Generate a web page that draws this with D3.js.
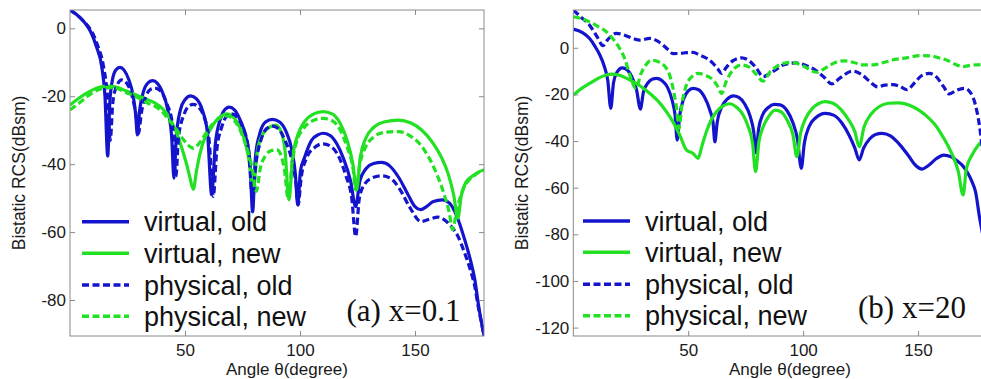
<!DOCTYPE html>
<html>
<head>
<meta charset="utf-8">
<script src="https://cdn.jsdelivr.net/npm/d3@7"></script>
<style>
  body { margin: 0; background: #fff; }
  svg { display: block; }
  .tick text { font-family: "Liberation Sans", Arial, sans-serif; font-size: 17px; fill: #1a1a1a; }
  .axis line { stroke: #8a8a8a; }
  .axis path { stroke: none; }
</style>
</head>
<body>
<script>
// angle (deg) vs bistatic RCS (dBsm)
const legendLabels = ['virtual, old', 'virtual, new', 'physical, old', 'physical, new'];
const xTicks = [50, 100, 150];
const yTicksA = [0, -20, -40, -60, -80];
const yTicksB = [0, -20, -40, -60, -80, -100, -120];

// (a) x=0.1
const aVirtualOld = [[0,5.4],[3,4],[6,2],[9,-1],[11.5,-5.4],[13.8,-11.3],[15.2,-20],[16.4,-37.6],[17.3,-22],[18.5,-15],[20,-12.2],[21.7,-11.5],[23.5,-12.3],[25.5,-15],[27.5,-20],[28.5,-25],[29.3,-31.4],[30.3,-24],[32,-18.5],[34,-16],[36,-15.4],[38,-16.2],[40,-18.5],[42.5,-24],[44.2,-32],[45.2,-44.1],[46.2,-32],[48,-24],[50,-21],[52.5,-19.9],[55,-20.8],[57.5,-24],[59.8,-31],[61.6,-49],[63.2,-34],[65.5,-26.5],[67.5,-23.8],[69.3,-23.2],[71.5,-24],[74,-27],[76.5,-32],[78.3,-40],[79.4,-54],[80.6,-38],[82.5,-31],[85,-27.6],[88,-26.8],[91,-27.5],[94,-30.5],[96.5,-36],[98,-43],[99,-52],[100.2,-42],[102,-38],[105,-33],[108,-31.3],[110,-30.9],[113,-31.5],[116,-34],[119,-38.5],[122,-45],[124.2,-52.5],[126,-45],[128.5,-41.5],[132,-39.8],[135.5,-39.5],[139,-40.5],[143,-44],[147,-49],[150,-52.5],[152.5,-53.4],[155,-52.5],[158,-51],[162,-50.5],[165,-51.5],[168,-55],[171.5,-62],[174,-68],[176,-74],[177.5,-81],[179,-87],[180,-90.5]];
const aVirtualNew = [[0,-22.6],[4,-20.5],[8,-18.8],[12,-17.5],[16,-17],[20,-17.3],[24,-18.3],[28.8,-19.6],[33,-20.8],[37,-22],[40,-23.5],[42.5,-25.5],[44.5,-28],[46.4,-30.9],[48.5,-35],[50.5,-39.5],[52,-43.5],[53.6,-47.4],[55,-42],[56.5,-37],[58.5,-32.5],[60.9,-29.9],[63.5,-27.2],[66,-25.7],[68.1,-25.2],[70.5,-25.8],[73,-28],[75.5,-32],[77.5,-37.5],[79.7,-46.5],[81.5,-36],[84,-31],[87,-29],[89.5,-28.5],[91.5,-30],[93.5,-36],[95.2,-50.5],[96.8,-38],[99,-31.5],[102,-27.5],[106,-25.2],[110,-24.5],[114,-25.2],[117.5,-28],[120.5,-33],[123,-40],[124.6,-47.6],[126.2,-38],[128.5,-32.5],[132,-29.2],[137,-27.5],[142.7,-27],[148,-27.8],[153,-30],[157.5,-33.5],[161.5,-38],[164.5,-43],[166.8,-49],[168.6,-55.9],[170.2,-49],[172,-45.5],[175,-43.5],[178,-42.2],[180,-41.7]];
const aPhysicalOld = [[0,5.4],[3,4],[6,2],[9.5,-1],[12,-5],[14.5,-11],[16.3,-20],[17.5,-33],[18.6,-22],[20,-17.5],[22.5,-15.2],[25,-16.5],[27,-20],[28.8,-26],[29.8,-31],[31,-25],[33,-20],[35,-18],[37,-17.6],[39.5,-18.5],[42,-22],[44.5,-28],[46,-43.6],[47.2,-32],[49.5,-25.5],[51.5,-23],[53.6,-22.4],[56,-23.3],[58.5,-26.5],[60.5,-33],[62.3,-49.5],[63.8,-36],[66,-29],[68,-26],[70.3,-25.2],[72.5,-26],[75,-29],[77.5,-35],[79.4,-50],[80.8,-40],[83,-33],[85.5,-29.5],[88,-28.8],[90.5,-29.5],[93.5,-33],[96.5,-39],[98.3,-46],[99.2,-52],[100.5,-44],[103,-38],[106.5,-35],[110,-34],[113.5,-34.8],[117,-38],[120,-43.5],[122.5,-50],[124.2,-61.3],[125.8,-50],[128,-46],[131.5,-44],[135.5,-43.4],[139.5,-44.2],[143.5,-47.5],[148,-53],[152.6,-56.9],[156,-56.3],[160,-55.6],[163,-56.5],[165.7,-58.3],[168.5,-61],[171.5,-66],[174,-71],[176,-76],[177.5,-82],[179,-87],[180,-90.5]];
const aPhysicalNew = [[0,-24],[4,-22],[8,-19.8],[12,-18.2],[16,-17.4],[20,-17.6],[24,-18.8],[28.8,-20.2],[33,-21.8],[37,-23],[40,-24.5],[43,-27],[46,-29.5],[49,-32.5],[51.5,-34.5],[53.6,-35.3],[56,-34],[58.5,-31.5],[61,-29],[64,-27],[68.1,-25.8],[71,-26.8],[74,-30],[77,-35.5],[79.3,-41.5],[81,-48],[82.8,-41],[85,-37.5],[87.5,-36],[90,-35.8],[91.5,-37],[93.3,-42],[94.9,-50.5],[96.5,-40],[98.5,-33.5],[101.5,-29.5],[105.5,-27.2],[110,-26.5],[114,-27.2],[117.5,-30],[120.5,-35],[123,-41],[124.3,-47.6],[126,-40],[128.5,-35],[132,-32],[137,-30.6],[142.7,-30.4],[147.5,-31.5],[152,-34],[156,-38],[159.5,-43],[162.5,-48.5],[164.8,-54],[166.4,-59.3],[168,-54],[170,-49],[172.5,-45.5],[175.5,-43.5],[178,-42.2],[180,-41.7]];

// (b) x=20
const bVirtualOld = [[0,8],[4,6.5],[7.1,4],[9.5,0.5],[11.5,-3],[13.5,-8],[15,-14],[16.3,-26],[17.5,-15],[19,-10.5],[21.3,-8.6],[23.5,-9.5],[25.5,-12.5],[27.5,-18],[29.2,-26.3],[30.5,-19],[32.5,-15],[34.5,-13.4],[36.2,-13.1],[38.5,-14],[41,-17],[43,-22.5],[44.3,-29],[45.2,-39.6],[46.3,-29],[48,-22],[50,-18.5],[52.1,-17.4],[54.5,-18],[57,-21],[59.5,-27],[60.8,-32],[61.6,-40.3],[62.6,-32],[64.5,-25.5],[67,-22],[69.6,-20.6],[72,-21.3],[74.5,-24],[77,-29.5],[78.5,-36],[79.5,-45],[80.6,-35],[82.5,-28.5],[85,-25.5],[87.5,-24.3],[90,-24.5],[93,-27],[95.5,-32],[97.5,-39],[99.2,-51.7],[100.5,-41],[102.5,-34],[105.5,-30],[109.6,-28.1],[113.5,-29],[117,-32.5],[120,-37.5],[122.5,-43],[124.4,-48.1],[126.3,-43],[129,-39],[131.5,-37.2],[134.3,-36.7],[138,-37.8],[142,-41.5],[146,-46.5],[149,-50.5],[151.7,-52],[154.5,-50.5],[158,-47.5],[161.1,-46],[164.5,-46.8],[167,-48.5],[169.2,-50.3],[171.5,-53.5],[173.5,-57.5],[175,-61.7],[176.8,-73],[178.5,-82],[180,-90]];
const bVirtualNew = [[0,-20.3],[3.5,-17.5],[7.1,-15.3],[11,-13],[14,-11.8],[16.6,-11.3],[20,-11.8],[24.6,-13.8],[29,-16.3],[33.3,-19.6],[37,-23],[40.5,-27.4],[43.5,-32],[46.3,-37.4],[49.2,-43.8],[52.1,-45.3],[54.3,-47.4],[56,-42],[57.9,-36],[60,-31],[62.3,-27.4],[65,-25],[68.1,-24],[71,-25.5],[73.9,-28.8],[76,-33.5],[78,-41],[79.3,-53.1],[80.8,-40],[82.6,-34],[85,-29.5],[87.8,-26.7],[90.5,-27.5],[93,-31],[95.5,-37],[97.3,-46.7],[98.8,-37],[101,-30.5],[104,-26],[107,-23.8],[109.6,-23.1],[113,-23.8],[116.5,-26.5],[119.5,-30.5],[122.5,-36],[124.4,-42.4],[126.5,-34],[129.5,-28.5],[133,-25.3],[137,-23.8],[141.5,-23.6],[146,-24.5],[150,-26.5],[154,-29.5],[157.5,-33.1],[161,-38.5],[164.5,-45],[167.5,-53],[169.6,-63.1],[171,-52],[173.5,-46],[176,-42],[178.5,-39.5],[180,-38]];
const bPhysicalOld = [[0,16.2],[3.5,13],[7.1,9.7],[10.5,4.5],[12.9,0.9],[15,3.5],[18.7,6.2],[22,5.5],[26,4],[29,3.3],[33.3,4],[36.5,3],[39,1.2],[41.5,-1],[43.4,-2.5],[46.5,-2.4],[49.2,-2.1],[52,-2],[55,-3.1],[58,-4.5],[60.8,-6.7],[62.8,-9],[64.5,-11],[66.5,-8.5],[69.5,-5.5],[73.2,-4.3],[76.5,-5.5],[79.5,-8.5],[82.6,-12.4],[85.5,-11],[88,-9.5],[91.3,-7.4],[96.6,-6.5],[101,-7.5],[105.3,-9.6],[109,-12.5],[112.5,-15.5],[116,-13],[121.5,-10],[125.5,-11.5],[129,-14.5],[132.5,-16.8],[135.5,-16],[139,-15.8],[142,-16.5],[145.2,-18],[148.5,-15],[151.5,-12],[154.8,-11],[158,-12.5],[161,-16.5],[163.6,-19.8],[166.5,-18.3],[170.3,-17.4],[173,-19.5],[175,-24.6],[177.1,-36],[178.5,-48],[180,-60]];
const bPhysicalNew = [[0,13.3],[3.5,12.5],[7.1,11.1],[11,9],[14.4,6.9],[17.5,3.5],[20.2,-0.3],[22.5,-5],[24.6,-11.7],[27.2,-17.4],[29.5,-11],[31.5,-7.5],[34,-5.3],[37,-6],[40.5,-8.8],[42.2,-12.5],[43.4,-17.4],[44.8,-25],[46,-34.5],[47.3,-24],[49.2,-16],[51.5,-12.5],[54.3,-11],[57.5,-11.8],[60.8,-13.8],[62.8,-16.5],[64.5,-19.6],[66.5,-14.5],[69.5,-9.5],[73.2,-7.4],[76.5,-8.3],[79.5,-11.3],[82.6,-14.3],[85.5,-10.5],[88.5,-8],[91.5,-6.7],[95,-6.2],[100,-7.8],[106,-10.5],[110,-8.5],[114,-6.3],[118,-5.6],[122,-6.3],[126,-7.3],[130.5,-7.3],[135,-6.3],[140,-5],[145,-4.3],[151,-3.4],[155,-3.5],[159,-4.3],[163,-5.5],[166,-7],[169.5,-8.1],[173,-7.5],[177,-7.2],[180,-6.8]];

const blue = '#1414cc';
const green = '#22e022';
const dash = '7,3.5';

const W = 981, H = 379;
const svg = d3.select('body').append('svg').attr('width', W).attr('height', H);

// plain hyphen minus, like the original figure
const tickText = d => String(d);

function panel(opts) {
  const {left, right, top, bottom, yDomain, yTicks, series, tag, tagX, tagY, legendX, legendRows, yLabelX, xLabelX} = opts;

  const x = d3.scaleLinear().domain([0, 180]).range([left, right]);
  const y = d3.scaleLinear().domain(yDomain).range([bottom, top]);

  const clipId = 'clip-' + tag.replace(/[^a-z]/g, '');
  svg.append('clipPath').attr('id', clipId)
    .append('rect').attr('x', left).attr('y', top).attr('width', right - left).attr('height', bottom - top);

  const line = d3.line()
    .x(d => x(d[0]))
    .y(d => y(d[1]))
    .curve(d3.curveMonotoneX);

  const $curves = svg.append('g').attr('clip-path', `url(#${clipId})`);
  series.forEach(s => {
    $curves.append('path')
      .datum(s.data)
      .attr('d', line)
      .attr('fill', 'none')
      .attr('stroke', s.color)
      .attr('stroke-width', 3.2)
      .attr('stroke-dasharray', s.dashed ? dash : null)
      .attr('stroke-linejoin', 'round');
  });

  // axes, Matlab box style with inward ticks
  svg.append('g').attr('class', 'axis')
    .attr('transform', `translate(0,${bottom})`)
    .call(d3.axisBottom(x).tickValues(xTicks).tickSizeInner(-5).tickSizeOuter(0).tickPadding(8).tickFormat(tickText));
  svg.append('g').attr('class', 'axis')
    .attr('transform', `translate(0,${top})`)
    .call(d3.axisTop(x).tickValues(xTicks).tickSizeInner(-5).tickSizeOuter(0).tickFormat(''));
  svg.append('g').attr('class', 'axis')
    .attr('transform', `translate(${left},0)`)
    .call(d3.axisLeft(y).tickValues(yTicks).tickSizeInner(-5).tickSizeOuter(0).tickPadding(4).tickFormat(tickText));
  svg.append('g').attr('class', 'axis')
    .attr('transform', `translate(${right},0)`)
    .call(d3.axisRight(y).tickValues(yTicks).tickSizeInner(-5).tickSizeOuter(0).tickFormat(''));

  svg.append('rect')
    .attr('x', left).attr('y', top)
    .attr('width', right - left).attr('height', bottom - top)
    .attr('fill', 'none').attr('stroke', '#8a8a8a').attr('stroke-width', 1);

  svg.append('text')
    .attr('transform', `translate(${yLabelX},173) rotate(-90)`)
    .attr('text-anchor', 'middle')
    .attr('dominant-baseline', 'central')
    .style('font-family', '"Liberation Sans", Arial, sans-serif')
    .style('font-size', '17.5px')
    .attr('fill', '#1a1a1a')
    .text('Bistatic RCS(dBsm)');

  svg.append('text')
    .attr('x', xLabelX).attr('y', 375)
    .attr('text-anchor', 'middle')
    .style('font-family', '"Liberation Sans", Arial, sans-serif')
    .style('font-size', '17px')
    .attr('fill', '#1a1a1a')
    .text('Angle θ(degree)');

  // legend
  const $legend = svg.append('g');
  series.forEach((s, i) => {
    const ly = legendRows[i];
    $legend.append('line')
      .attr('x1', legendX).attr('x2', legendX + 47)
      .attr('y1', ly).attr('y2', ly)
      .attr('stroke', s.color)
      .attr('stroke-width', 3.6)
      .attr('stroke-dasharray', s.dashed ? dash : null);
    $legend.append('text')
      .attr('x', legendX + 62).attr('y', ly + 9.5)
      .style('font-family', '"Liberation Sans", Arial, sans-serif')
      .style('font-size', '27px')
      .attr('fill', '#111')
      .text(legendLabels[i]);
  });

  svg.append('text')
    .attr('x', tagX).attr('y', tagY)
    .style('font-family', '"Liberation Serif", "Times New Roman", serif')
    .style('font-size', '31px')
    .attr('fill', '#111')
    .text(tag);
}

panel({
  left: 70, right: 484, top: 10, bottom: 336,
  yDomain: [-90.6, 5.4], yTicks: yTicksA,
  series: [
    {data: aVirtualOld, color: blue, dashed: false},
    {data: aVirtualNew, color: green, dashed: false},
    {data: aPhysicalOld, color: blue, dashed: true},
    {data: aPhysicalNew, color: green, dashed: true}
  ],
  tag: '(a) x=0.1', tagX: 346.5, tagY: 321,
  legendX: 82, legendRows: [221.7, 253.3, 285, 316.3],
  yLabelX: 19, xLabelX: 287
});

panel({
  left: 573.3, right: 987, top: 10, bottom: 336,
  yDomain: [-123.6, 16.2], yTicks: yTicksB,
  series: [
    {data: bVirtualOld, color: blue, dashed: false},
    {data: bVirtualNew, color: green, dashed: false},
    {data: bPhysicalOld, color: blue, dashed: true},
    {data: bPhysicalNew, color: green, dashed: true}
  ],
  tag: '(b) x=20', tagX: 858, tagY: 318,
  legendX: 583, legendRows: [221, 252.3, 284.3, 315.7],
  yLabelX: 522, xLabelX: 790
});
</script>
</body>
</html>
